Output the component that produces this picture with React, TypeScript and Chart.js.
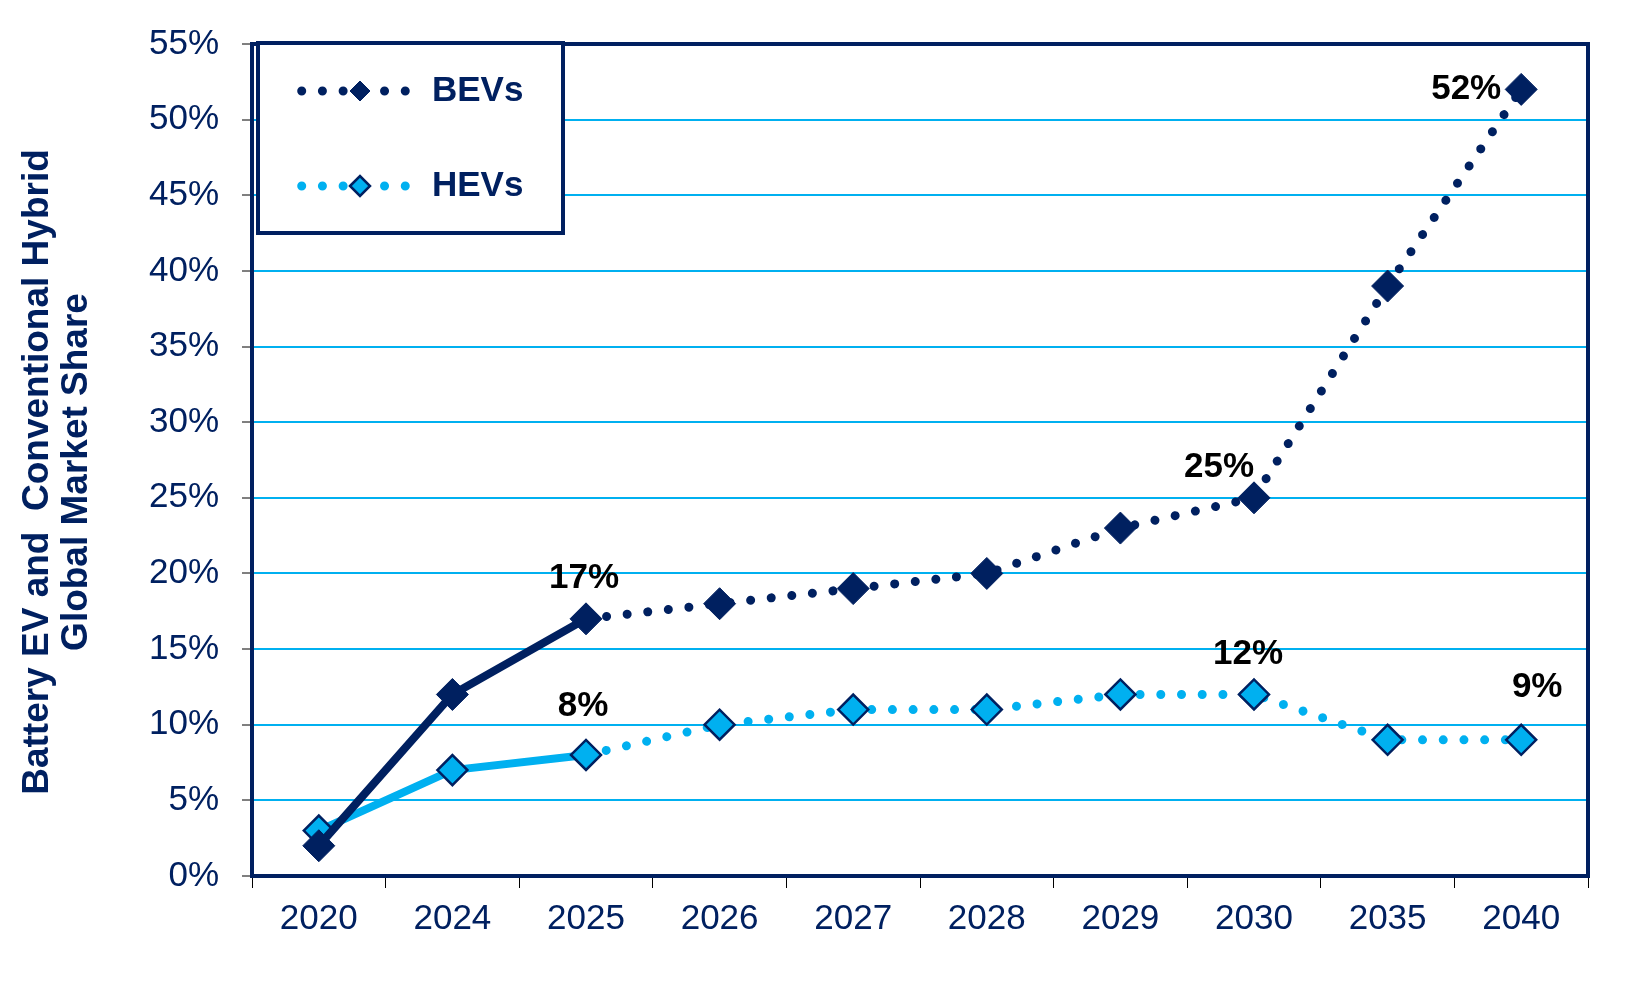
import React, { useEffect, useRef } from "react";
import { Chart, registerables } from "chart.js";

Chart.register(...registerables);

// ---------- data ----------
const categories = ["2020", "2024", "2025", "2026", "2027", "2028", "2029", "2030", "2035", "2040"];
const seriesNames = ["BEVs", "HEVs"];
const bevValues = [2, 12, 17, 18, 19, 20, 23, 25, 39, 52];
const hevValues = [3, 7, 8, 10, 11, 11, 12, 12, 9, 9];
const yMin = 0;
const yMax = 55;
const yStep = 5;
const yAxisTitle = ["Battery EV and  Conventional Hybrid", "Global Market Share"];
// index of the last actual (solid) point; later segments are forecasts (dotted)
const lastSolidIndex = 2;
// which points get a value label: [series, index]
const labelledPoints: [number, number][] = [
  [0, 2], [1, 2], [0, 7], [1, 7], [0, 9], [1, 9],
];

// ---------- styles ----------
const NAVY = "#002060";
const LIGHT = "#00B0F0";
const FONT = "'Liberation Sans', Arial, Helvetica, sans-serif";
const DOT_DASH = [0.01, 20.7];
// label offsets (px) relative to the point, same order as labelledPoints
const labelOffsets: [number, number][] = [
  [-2, -40], [-3, -49], [-35, -30], [-6, -40], [-55, 0], [16, -53],
];

const plotBorder = {
  id: "plotBorder",
  beforeDatasetsDraw(chart: any) {
    const { ctx, chartArea } = chart;
    ctx.save();
    ctx.lineWidth = 4;
    ctx.strokeStyle = NAVY;
    ctx.strokeRect(chartArea.left, chartArea.top, chartArea.right - chartArea.left, chartArea.bottom - chartArea.top);
    ctx.restore();
  },
};

const axisTitle = {
  id: "axisTitle",
  afterDraw(chart: any) {
    const { ctx, chartArea } = chart;
    const cy = (chartArea.top + chartArea.bottom) / 2 + 12;
    ctx.save();
    ctx.font = `bold 37px ${FONT}`;
    ctx.fillStyle = NAVY;
    ctx.textAlign = "center";
    ctx.textBaseline = "middle";
    yAxisTitle.forEach((line, i) => {
      ctx.save();
      ctx.translate(37.5 + i * 39, cy);
      ctx.rotate(-Math.PI / 2);
      ctx.fillText(line, 0, 0);
      ctx.restore();
    });
    ctx.restore();
  },
};

function diamond(ctx: CanvasRenderingContext2D, x: number, y: number, r: number) {
  ctx.beginPath();
  ctx.moveTo(x - r, y);
  ctx.lineTo(x, y - r);
  ctx.lineTo(x + r, y);
  ctx.lineTo(x, y + r);
  ctx.closePath();
}

const boxLegend = {
  id: "boxLegend",
  beforeDatasetsDraw(chart: any) {
    const { ctx, chartArea } = chart;
    const bx = chartArea.left + 6;
    const by = chartArea.top - 1;
    const bw = 305;
    const bh = 190;
    ctx.save();
    ctx.fillStyle = "#ffffff";
    ctx.fillRect(bx, by, bw, bh);
    ctx.lineWidth = 4;
    ctx.strokeStyle = NAVY;
    ctx.strokeRect(bx, by, bw, bh);
    chart.data.datasets.forEach((ds: any, i: number) => {
      const y = by + 48 + i * 95;
      ctx.save();
      ctx.beginPath();
      ctx.setLineDash(DOT_DASH);
      ctx.lineCap = "round";
      ctx.lineWidth = 9;
      ctx.strokeStyle = ds.borderColor;
      ctx.moveTo(bx + 43.7, y);
      ctx.lineTo(bx + 147.5, y);
      ctx.stroke();
      ctx.restore();
      diamond(ctx, bx + 102, y, 10);
      ctx.fillStyle = ds.pointBackgroundColor;
      ctx.fill();
      ctx.lineWidth = ds.pointBorderWidth;
      ctx.strokeStyle = ds.pointBorderColor;
      ctx.stroke();
      ctx.fillStyle = NAVY;
      ctx.font = `bold 35px ${FONT}`;
      ctx.textAlign = "left";
      ctx.textBaseline = "middle";
      ctx.fillText(ds.label, bx + 174, y);
    });
    ctx.restore();
  },
};

const valueLabels = {
  id: "valueLabels",
  afterDatasetsDraw(chart: any) {
    const { ctx } = chart;
    ctx.save();
    ctx.font = `bold 35px ${FONT}`;
    ctx.fillStyle = "#000000";
    ctx.textAlign = "center";
    ctx.textBaseline = "middle";
    labelledPoints.forEach(([s, idx], k) => {
      const el = chart.getDatasetMeta(s).data[idx];
      const v = chart.data.datasets[s].data[idx];
      const [dx, dy] = labelOffsets[k];
      ctx.fillText(`${v}%`, el.x + dx, el.y + dy);
    });
    ctx.restore();
  },
};

export default function App() {
  const ref = useRef<HTMLCanvasElement>(null);

  useEffect(() => {
    if (!ref.current) return;
    const segDash = (c: any) => (c.p1DataIndex <= lastSolidIndex ? undefined : DOT_DASH);
    const segWidth = (c: any) => (c.p1DataIndex <= lastSolidIndex ? 8 : 9);
    const chart = new Chart(ref.current, {
      type: "line",
      data: {
        labels: categories,
        datasets: [
          {
            label: seriesNames[0],
            data: bevValues,
            borderColor: NAVY,
            backgroundColor: NAVY,
            borderWidth: 8,
            borderCapStyle: "round",
            borderJoinStyle: "round",
            tension: 0,
            pointStyle: "rectRot",
            pointRadius: 16,
            pointHoverRadius: 16,
            pointBackgroundColor: NAVY,
            pointBorderColor: NAVY,
            pointBorderWidth: 1,
            segment: { borderDash: segDash, borderWidth: segWidth },
          } as any,
          {
            label: seriesNames[1],
            data: hevValues,
            borderColor: LIGHT,
            backgroundColor: LIGHT,
            borderWidth: 8,
            borderCapStyle: "round",
            borderJoinStyle: "round",
            tension: 0,
            pointStyle: "rectRot",
            pointRadius: 15,
            pointHoverRadius: 15,
            pointBackgroundColor: LIGHT,
            pointBorderColor: NAVY,
            pointBorderWidth: 2.5,
            segment: { borderDash: segDash, borderWidth: segWidth },
          } as any,
        ],
      },
      options: {
        responsive: false,
        animation: false,
        events: [],
        layout: { padding: { left: 0, top: 40, right: 62, bottom: 0 } },
        plugins: {
          legend: { display: false },
          tooltip: { enabled: false },
        },
        scales: {
          x: {
            type: "category",
            offset: true,
            grid: {
              offset: true,
              drawOnChartArea: false,
              drawTicks: true,
              tickLength: 12,
              tickColor: "#000000",
              tickWidth: 1,
            },
            border: { display: false },
            ticks: {
              color: NAVY,
              font: { family: FONT, size: 35 },
              padding: 10,
              maxRotation: 0,
              autoSkip: false,
            },
            afterFit: (s: any) => {
              s.height = 113;
            },
          },
          y: {
            min: yMin,
            max: yMax,
            grid: {
              color: (c: any) =>
                c.tick && (c.tick.value === yMin || c.tick.value === yMax) ? "rgba(0,0,0,0)" : LIGHT,
              lineWidth: 2,
              drawTicks: true,
              tickLength: 10,
              tickColor: "#000000",
              tickWidth: 1,
            },
            border: { display: false },
            ticks: {
              stepSize: yStep,
              color: NAVY,
              font: { family: FONT, size: 35 },
              padding: 23,
              callback: (v: any) => `${v}%`,
            },
            title: { display: false },
            afterFit: (s: any) => {
              s.width = 252;
            },
          },
        },
      },
      plugins: [plotBorder, boxLegend, valueLabels, axisTitle],
    } as any);
    return () => chart.destroy();
  }, []);

  return (
    <div style={{ position: "absolute", left: 0, top: 0, width: 1650, height: 989, background: "#fff" }}>
      <canvas ref={ref} width={1650} height={989} style={{ display: "block", width: 1650, height: 989 }} />
    </div>
  );
}
